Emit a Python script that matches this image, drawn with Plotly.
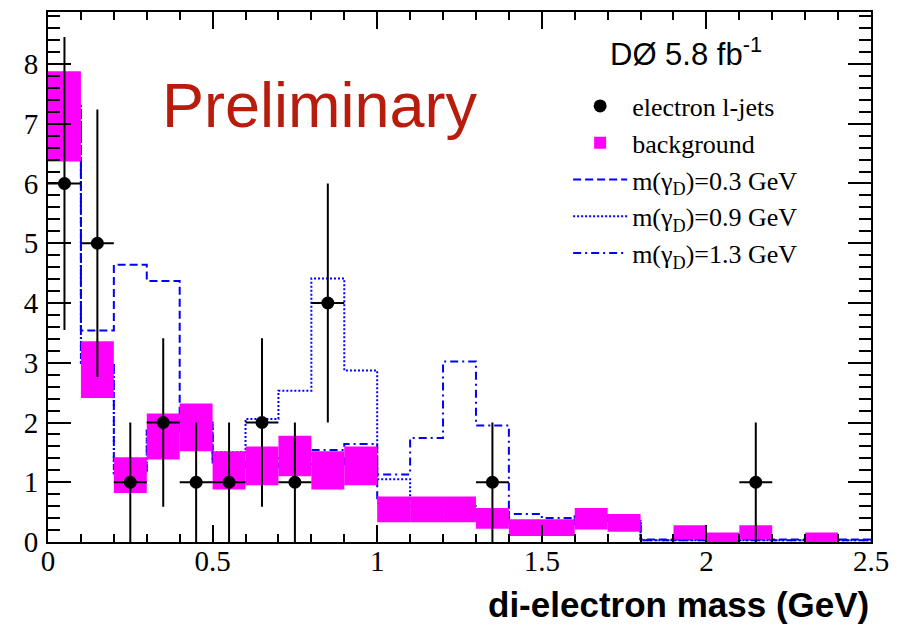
import plotly.graph_objects as go

# Bin layout: 25 bins of 0.1 GeV from 0 to 2.5 GeV
bin_lo = [round(0.1 * i, 1) for i in range(25)]
bin_width = 0.1

# Observed electron lepton-jet candidates (bin centre, count, stat. error)
data_mass = [0.05, 0.15, 0.25, 0.35, 0.45, 0.55, 0.65, 0.75, 0.85, 1.35, 2.15]
data_count = [6, 5, 1, 2, 1, 1, 2, 1, 4, 1, 1]
data_err = [2.45, 2.24, 1.0, 1.41, 1.0, 1.0, 1.41, 1.0, 2.0, 1.0, 1.0]

# Background estimate band (lower / upper edge per bin)
bkg_low = [6.37, 2.41, 0.82, 1.38, 1.52, 0.88, 0.95, 1.10, 0.88, 0.95,
           0.33, 0.33, 0.33, 0.22, 0.10, 0.10, 0.21, 0.17, 0.00, 0.04,
           0.00, 0.04, 0.00, 0.00, 0.00]
bkg_high = [7.88, 3.36, 1.42, 2.15, 2.32, 1.52, 1.60, 1.78, 1.52, 1.60,
            0.76, 0.76, 0.76, 0.57, 0.38, 0.38, 0.57, 0.47, 0.00, 0.28,
            0.16, 0.28, 0.00, 0.16, 0.00]

# Dark-photon signal templates
sig_03 = [7.3, 3.54, 4.64, 4.37, 1.95, 1.33, 1.25, 1.30, 1.30, 1.40,
          0.65, 0.60, 0.55, 0.45, 0.35, 0.30, 0.45, 0.35, 0.04, 0.04,
          0.04, 0.04, 0.04, 0.04, 0.04]
sig_09 = [7.3, 3.00, 1.15, 1.86, 2.00, 1.50, 2.06, 2.53, 4.41, 2.87,
          1.05, 0.72, 0.60, 0.50, 0.35, 0.30, 0.45, 0.35, 0.03, 0.03,
          0.03, 0.03, 0.03, 0.03, 0.03]
sig_13 = [7.3, 3.00, 1.15, 1.86, 2.00, 1.33, 1.30, 1.40, 1.54, 1.64,
          1.13, 1.74, 3.02, 1.95, 0.47, 0.40, 0.45, 0.35, 0.03, 0.03,
          0.03, 0.03, 0.03, 0.03, 0.03]

x_range = [0, 2.5]
y_range = [0, 8.87]
x_tick_vals = [0, 0.5, 1, 1.5, 2, 2.5]
x_tick_text = ["0", "0.5", "1", "1.5", "2", "2.5"]
y_tick_vals = [0, 1, 2, 3, 4, 5, 6, 7, 8]

BLUE = "#0000ff"
MAGENTA = "#ff00ff"
SERIF = "Liberation Serif"
SANS = "Liberation Sans"

fig = go.Figure()

# signal step histograms on the base subplot (drawn underneath the band)
step_x = bin_lo + [2.5]
for vals, name, dash, rank in [
    (sig_03, "m(γ<sub>D</sub>)=0.3 GeV", "8px,4px", 3),
    (sig_09, "m(γ<sub>D</sub>)=0.9 GeV", "2px,2px", 4),
    (sig_13, "m(γ<sub>D</sub>)=1.3 GeV", "8px,4px,2px,4px", 5),
]:
    fig.add_trace(go.Scatter(
        x=step_x, y=vals + [vals[-1]], mode="lines", name=name,
        line=dict(color=BLUE, width=2, dash=dash, shape="hv"),
        legendrank=rank, xaxis="x", yaxis="y",
    ))

# background band on the overlay subplot so it covers the signal lines
fig.add_trace(go.Bar(
    x=[b + bin_width / 2 for b in bin_lo],
    y=[h - l for h, l in zip(bkg_high, bkg_low)],
    base=bkg_low, width=bin_width, name="background",
    marker=dict(color=MAGENTA, line=dict(width=0)),
    legendrank=2, xaxis="x2", yaxis="y2",
))

# data points with statistical errors
fig.add_trace(go.Scatter(
    x=data_mass, y=data_count, mode="markers", name="electron l-jets",
    marker=dict(color="black", size=13),
    error_y=dict(type="data", array=data_err, color="black", thickness=2, width=0),
    error_x=dict(type="constant", value=bin_width / 2, color="black", thickness=2, width=0),
    legendrank=1, xaxis="x2", yaxis="y2",
))

tick_common = dict(
    ticks="inside", tickcolor="black", tickwidth=1.5,
    showgrid=False, zeroline=False,
)
label_font = dict(family=SERIF, size=29, color="black")

fig.update_layout(
    xaxis=dict(
        range=x_range, tickvals=x_tick_vals, ticktext=x_tick_text, ticklen=17,
        minor=dict(dtick=0.1, ticklen=8, ticks="inside", tickcolor="black", tickwidth=1.5, showgrid=False),
        showline=True, linecolor="black", linewidth=2, mirror=True,
        tickfont=label_font, ticklabelstandoff=-8, **tick_common,
    ),
    yaxis=dict(
        range=y_range, tickvals=y_tick_vals, ticklen=23,
        minor=dict(dtick=0.2, ticklen=12, ticks="inside", tickcolor="black", tickwidth=1.5, showgrid=False),
        showline=True, linecolor="black", linewidth=2, mirror=True,
        tickfont=label_font, ticklabelstandoff=2, **tick_common,
    ),
    # top and right axes: same scales, ticks only
    xaxis2=dict(
        range=x_range, overlaying="x", side="top", tickvals=x_tick_vals, ticklen=17,
        minor=dict(dtick=0.1, ticklen=8, ticks="inside", tickcolor="black", tickwidth=1.5, showgrid=False),
        showticklabels=False, showline=False, **tick_common,
    ),
    yaxis2=dict(
        range=y_range, overlaying="y", side="right", tickvals=y_tick_vals, ticklen=23,
        minor=dict(dtick=0.2, ticklen=12, ticks="inside", tickcolor="black", tickwidth=1.5, showgrid=False),
        showticklabels=False, showline=False, **tick_common,
    ),
    width=899, height=626,
    margin=dict(l=48, r=26, t=10, b=84),
    paper_bgcolor="white", plot_bgcolor="white",
    barmode="overlay",
    showlegend=True,
    legend=dict(
        x=0.632, y=0.867, xanchor="left", yanchor="top",
        bgcolor="rgba(0,0,0,0)", borderwidth=0,
        font=dict(family=SERIF, size=26, color="black"),
        itemwidth=54,
    ),
    annotations=[
        dict(text="Preliminary", xref="paper", yref="paper",
             x=0.136, y=(542 - 103) / 532, xanchor="left", yanchor="middle",
             showarrow=False, font=dict(family=SANS, size=63, color="#b81c0c")),
        dict(text="DØ 5.8 fb<sup>-1</sup>", xref="paper", yref="paper",
             x=(609 - 48) / 825, y=(542 - 50) / 532, xanchor="left", yanchor="middle",
             showarrow=False, font=dict(family=SANS, size=31, color="black")),
        dict(text="<b>di-electron mass (GeV)</b>", xref="paper", yref="paper",
             x=1.0, y=(542 - 605) / 532, xanchor="right", yanchor="middle",
             showarrow=False, font=dict(family=SANS, size=35, color="black")),
    ],
)

fig.write_html("out.html")
